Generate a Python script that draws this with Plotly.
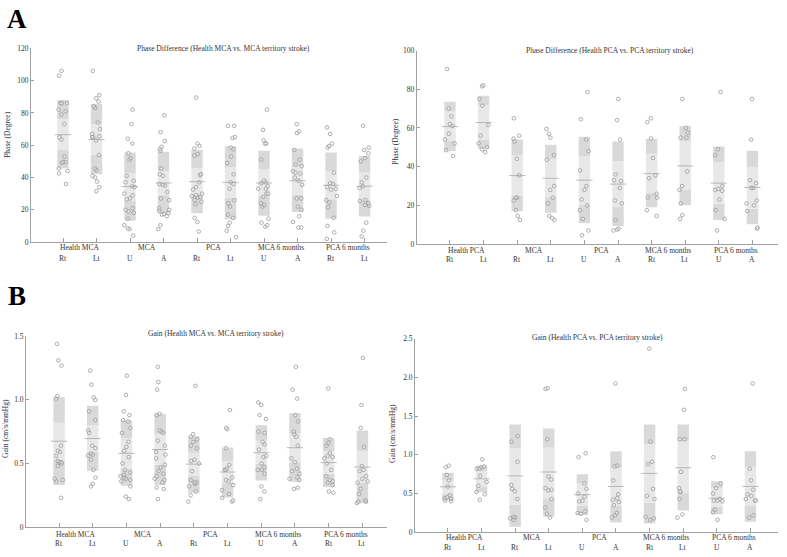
import plotly.graph_objects as go

FONT = "Liberation Serif"
DARK = "#d9d9d9"
LIGHT = "#e8e8e8"
MEANC = "#a8a8a8"
AXC = "#a0a0a0"
PTC = "#999999"

# ---------------- tick / group labels ----------------
groups_mca = ["Health MCA", "MCA", "PCA", "MCA 6 months", "PCA 6 months"]
groups_pca = ["Health PCA", "MCA", "PCA", "MCA 6 months", "PCA 6 months"]
sub_mca = ["Rt", "Lt", "U", "A", "Rt", "Lt", "U", "A", "Rt", "Lt"]
sub_pca = ["Rt", "Lt", "Rt", "Lt", "U", "A", "Rt", "Lt", "U", "A"]

# ---------------- Panel A-left : Phase, Health MCA vs MCA stroke ----------------
a1_points = [
    [103, 106, 86, 86, 86, 82, 81, 79, 73, 65, 63.5, 53, 49.5, 49.5, 49, 45.5, 44, 42.5, 36],
    [106, 91, 89, 87, 84, 83, 74, 70, 67, 65.5, 65, 65, 63, 54, 45.5, 44.5, 41, 40, 37.5, 34, 31.5],
    [82, 73, 64, 61, 55, 52, 51, 41, 38, 37, 34.5, 34, 30, 29, 27, 26.5, 21, 20, 19, 18, 14.5, 10.5, 8.5, 8, 4],
    [78.5, 68, 62.5, 59, 57.5, 56.5, 45.5, 42, 41, 36, 35.5, 35, 31, 27, 26, 21, 20, 19.5, 18, 17.5, 17, 16, 10.5, 8],
    [89.5, 61, 59.5, 58, 54.5, 53.5, 42, 41.5, 37, 34, 32.5, 30, 29, 28.5, 28, 27.5, 26, 25, 23.5, 15, 12.5, 6.5],
    [72, 72, 65, 64.5, 58.5, 57.5, 53, 49, 42, 37, 36, 33, 26, 24, 22, 17, 15, 12, 10, 7, 3],
    [82, 69.5, 63, 61, 61, 51, 38, 37, 36.5, 34.5, 33, 33, 30, 30, 28, 24, 23, 22, 14.5, 12, 10.5, 9.5],
    [73, 68.5, 67.5, 57, 51, 48, 47, 44, 43, 42.5, 40, 38, 35.5, 27, 27, 22, 20, 16, 12.5, 9, 9],
    [71, 67, 61, 59.5, 58.5, 43, 36.5, 36, 34, 33, 32.5, 28.5, 26, 24.5, 21.5, 15, 10, 6, 2],
    [72, 58.5, 57, 55, 52, 50, 40, 37, 34.5, 33.5, 26, 25.5, 24, 23, 22.5, 12, 7, 3.5],
]
a1_lo = [45.5, 42, 13.2, 17.7, 17.9, 14.2, 16.3, 18.7, 14.5, 15.9]
a1_hi = [88, 85.5, 55.5, 56, 57.2, 59.4, 56.5, 58, 55.5, 53.3]
a1_ci_lo = [57, 54, 25.8, 29, 29.5, 27.5, 28.5, 29.5, 26.5, 26.4]
a1_ci_hi = [76, 73, 42.7, 44, 45.8, 46.5, 45, 46.5, 44, 43]
a1_mean = [66.5, 63.5, 34.4, 36.6, 37.4, 37, 36.6, 38, 35.2, 34.6]

# ---------------- Panel A-right : Phase, Health PCA vs PCA stroke ----------------
a2_points = [
    [90.5, 70, 66, 62, 61, 57, 54, 52, 48.5, 45.5],
    [82, 81.5, 75, 71.5, 61.5, 56, 52, 50, 49, 47.5],
    [65, 56, 54.5, 53, 44, 35.5, 24, 24, 22.5, 17.5, 14.5, 12.5],
    [59.5, 57, 55, 46, 43.5, 30, 28, 24, 21, 14.5, 13.5, 12.5],
    [78.5, 64.5, 54, 48, 38, 30, 28, 23, 20, 17.5, 13, 7, 4.5],
    [75, 64, 54, 36, 33, 32.5, 29, 22.5, 21, 12.5, 8, 7.5, 7],
    [65, 63, 54.5, 44.5, 35.5, 34, 26, 24, 24, 17.5, 14.5],
    [75, 60, 57.5, 55, 55, 37.5, 30, 28, 21, 15, 13],
    [78.5, 49, 46, 30, 28.5, 28, 27.5, 23, 17.5, 13, 7],
    [75, 54, 33, 31.5, 29, 29, 22.5, 21, 20, 17, 8.5, 8],
]
a2_lo = [47.9, 49.2, 16.9, 16.2, 10.7, 9.3, 19, 20, 12.4, 10.2]
a2_hi = [73.6, 76.6, 54, 51.3, 55.5, 53, 54.3, 61, 50.4, 48.2]
a2_ci_lo = [53.3, 54.1, 24.9, 24.2, 20.5, 19.1, 26.6, 27.9, 20.8, 18.3]
a2_ci_hi = [68.5, 71.6, 45.7, 43.7, 45.3, 42.8, 46.7, 53, 42.3, 39.8]
a2_mean = [60.7, 62.8, 35.4, 34, 33, 31, 36.4, 40.4, 31.5, 29.3]

# ---------------- Panel B-left : Gain, Health MCA vs MCA stroke ----------------
b1_points = [
    [1.44, 1.31, 1.27, 1.03, 1.01, 0.64, 0.60, 0.59, 0.56, 0.52, 0.51, 0.51, 0.50, 0.48, 0.38, 0.37, 0.36, 0.23],
    [1.23, 1.12, 1.02, 1.00, 0.91, 0.84, 0.76, 0.74, 0.64, 0.62, 0.58, 0.57, 0.56, 0.53, 0.45, 0.39, 0.34, 0.32],
    [1.19, 1.04, 0.91, 0.88, 0.84, 0.83, 0.78, 0.74, 0.67, 0.63, 0.60, 0.55, 0.50, 0.45, 0.43, 0.41, 0.40, 0.39, 0.38, 0.37, 0.36, 0.32, 0.24, 0.22],
    [1.26, 1.14, 1.08, 0.89, 0.88, 0.76, 0.75, 0.74, 0.68, 0.64, 0.59, 0.57, 0.54, 0.49, 0.47, 0.44, 0.42, 0.40, 0.38, 0.37, 0.35, 0.31, 0.30, 0.22],
    [1.11, 0.73, 0.71, 0.69, 0.67, 0.64, 0.62, 0.53, 0.52, 0.50, 0.44, 0.37, 0.35, 0.35, 0.34, 0.32, 0.28, 0.25, 0.20],
    [0.92, 0.78, 0.77, 0.62, 0.49, 0.46, 0.45, 0.45, 0.39, 0.37, 0.36, 0.33, 0.29, 0.26, 0.23, 0.21, 0.20],
    [0.98, 0.96, 0.88, 0.85, 0.75, 0.74, 0.67, 0.65, 0.61, 0.56, 0.55, 0.50, 0.47, 0.45, 0.45, 0.42, 0.32, 0.28, 0.22],
    [1.26, 1.08, 1.01, 0.88, 0.83, 0.75, 0.73, 0.71, 0.64, 0.54, 0.51, 0.46, 0.44, 0.42, 0.39, 0.38, 0.37, 0.31, 0.30],
    [1.09, 0.69, 0.66, 0.64, 0.58, 0.56, 0.55, 0.54, 0.50, 0.45, 0.40, 0.37, 0.36, 0.35, 0.33, 0.28, 0.27],
    [1.33, 0.96, 0.78, 0.63, 0.48, 0.45, 0.44, 0.40, 0.38, 0.36, 0.35, 0.30, 0.26, 0.21, 0.20, 0.20, 0.19],
]
b1_lo = [0.33, 0.443, 0.325, 0.33, 0.27, 0.232, 0.366, 0.356, 0.314, 0.188]
b1_hi = [1.023, 0.954, 0.84, 0.89, 0.714, 0.625, 0.80, 0.894, 0.70, 0.76]
b1_ci_lo = [0.53, 0.593, 0.46, 0.49, 0.405, 0.35, 0.50, 0.51, 0.42, 0.35]
b1_ci_hi = [0.82, 0.80, 0.70, 0.73, 0.585, 0.515, 0.678, 0.735, 0.595, 0.595]
b1_mean = [0.675, 0.696, 0.58, 0.61, 0.495, 0.433, 0.585, 0.624, 0.507, 0.472]

# ---------------- Panel B-right : Gain, Health PCA vs PCA stroke ----------------
b2_points = [
    [0.86, 0.84, 0.74, 0.67, 0.59, 0.48, 0.45, 0.44, 0.43, 0.41, 0.40],
    [0.94, 0.85, 0.84, 0.82, 0.82, 0.73, 0.65, 0.60, 0.52, 0.49, 0.42],
    [1.24, 1.17, 0.91, 0.61, 0.56, 0.53, 0.43, 0.20, 0.19, 0.18, 0.16],
    [1.86, 1.85, 1.20, 0.72, 0.68, 0.57, 0.55, 0.54, 0.43, 0.32, 0.24, 0.19],
    [1.02, 0.97, 0.63, 0.56, 0.50, 0.46, 0.41, 0.40, 0.27, 0.25, 0.24, 0.16],
    [1.92, 0.86, 0.85, 0.67, 0.49, 0.44, 0.42, 0.39, 0.35, 0.25, 0.22, 0.19],
    [2.37, 1.17, 0.91, 0.88, 0.56, 0.47, 0.43, 0.20, 0.18, 0.16],
    [1.85, 1.58, 1.20, 1.20, 0.78, 0.57, 0.53, 0.52, 0.43, 0.23, 0.19],
    [0.97, 0.63, 0.57, 0.50, 0.43, 0.41, 0.41, 0.40, 0.29, 0.26, 0.16],
    [1.92, 0.82, 0.67, 0.55, 0.49, 0.47, 0.43, 0.41, 0.41, 0.22, 0.19],
]
b2_lo = [0.41, 0.516, 0.072, 0.20, 0.22, 0.127, 0.114, 0.283, 0.233, 0.135]
b2_hi = [0.77, 0.863, 1.39, 1.34, 0.75, 1.045, 1.39, 1.39, 0.66, 1.045]
b2_ci_lo = [0.50, 0.59, 0.355, 0.44, 0.347, 0.338, 0.38, 0.507, 0.326, 0.338]
b2_ci_hi = [0.67, 0.79, 1.087, 1.095, 0.635, 0.833, 1.138, 1.17, 0.567, 0.846]
b2_mean = [0.588, 0.69, 0.728, 0.778, 0.485, 0.592, 0.76, 0.833, 0.44, 0.592]

W, H = 787, 557


def px_x(p):
    return p / W


def px_y(p):
    return (H - p) / H


panels = [
    dict(ax="", pts=a1_points, lo=a1_lo, hi=a1_hi, cl=a1_ci_lo, ch=a1_ci_hi, mean=a1_mean,
         groups=groups_mca, subs=sub_mca, xdom=(31, 387), xr=(-0.955, 9.67), ydom=(242, 45), yr=(0, 120),
         yt=[0, 20, 40, 60, 80, 100, 120], ytt=["0", "20", "40", "60", "80", "100", "120"],
         title="Phase Difference (Health MCA vs. MCA territory stroke)", tpos=(223, 45),
         ytitle="Phase (Degree)", ytpos=(8, 133), gy=248, sy=259),
    dict(ax="2", pts=a2_points, lo=a2_lo, hi=a2_hi, cl=a2_ci_lo, ch=a2_ci_hi, mean=a2_mean,
         groups=groups_pca, subs=sub_pca, xdom=(416.7, 778), xr=(-0.99, 9.76), ydom=(244, 47.3), yr=(0, 100),
         yt=[0, 20, 40, 60, 80, 100], ytt=["0", "20", "40", "60", "80", "100"],
         title="Phase Difference (Health PCA vs. PCA territory stroke)", tpos=(610, 47),
         ytitle="Phase (Degree)", ytpos=(396, 140), gy=251, sy=260),
    dict(ax="3", pts=b1_points, lo=b1_lo, hi=b1_hi, cl=b1_ci_lo, ch=b1_ci_hi, mean=b1_mean,
         groups=groups_mca, subs=sub_mca, xdom=(26, 387), xr=(-0.98, 9.73), ydom=(531.7, 337.7), yr=(0, 1.5),
         yt=[0, 0.5, 1.0, 1.5], ytt=["0", "0.5", "1.0", "1.5"],
         title="Gain (Health MCA vs. MCA territory stroke)", tpos=(216, 335),
         ytitle="Gain (cm/s/mmHg)", ytpos=(5, 432), gy=539, sy=548),
    dict(ax="4", pts=b2_points, lo=b2_lo, hi=b2_hi, cl=b2_ci_lo, ch=b2_ci_hi, mean=b2_mean,
         groups=groups_pca, subs=sub_pca, xdom=(415, 778), xr=(-0.98, 9.82), ydom=(537, 340), yr=(0, 2.5),
         yt=[0, 0.5, 1.0, 1.5, 2.0, 2.5], ytt=["0", "0.5", "1.0", "1.5", "2.0", "2.5"],
         title="Gain (Health PCA vs. PCA territory stroke)", tpos=(597, 339),
         ytitle="Gain (cm/s/mmHg)", ytpos=(393, 437), gy=542, sy=552),
]

fig = go.Figure()
annotations = []
layout_axes = {}

for p in panels:
    xa = "x" + p["ax"]
    ya = "y" + p["ax"]
    pos = list(range(10))
    bands = [
        (p["lo"], [c - l for c, l in zip(p["cl"], p["lo"])], DARK),
        (p["cl"], [h - l for h, l in zip(p["ch"], p["cl"])], LIGHT),
        (p["ch"], [h - c for h, c in zip(p["hi"], p["ch"])], DARK),
    ]
    for base, hgt, col in bands:
        fig.add_trace(go.Bar(x=pos, y=hgt, base=base, width=0.34, marker=dict(color=col, line=dict(width=0)),
                             xaxis=xa, yaxis=ya, showlegend=False, hoverinfo="skip"))
    fig.add_trace(go.Scatter(x=pos, y=p["mean"], mode="markers",
                             marker=dict(symbol="line-ew", size=11.5, line=dict(width=0.8, color=MEANC)),
                             xaxis=xa, yaxis=ya, showlegend=False, hoverinfo="skip"))
    xs, ys = [], []
    for i, vals in enumerate(p["pts"]):
        xs += [i] * len(vals)
        ys += vals
    fig.add_trace(go.Box(x=xs, y=ys, boxpoints="all", jitter=0.75, pointpos=0,
                         fillcolor="rgba(0,0,0,0)", line=dict(width=0, color="rgba(0,0,0,0)"),
                         marker=dict(symbol="circle", size=3.6, color="rgba(255,255,255,0.3)",
                                     line=dict(width=0.8, color=PTC)),
                         xaxis=xa, yaxis=ya, showlegend=False, hoverinfo="y"))

    xkey = "xaxis" + p["ax"]
    ykey = "yaxis" + p["ax"]
    layout_axes[xkey] = dict(domain=[px_x(p["xdom"][0]), px_x(p["xdom"][1])], range=list(p["xr"]),
                             anchor=ya, showline=True, linecolor=AXC, linewidth=1, ticks="inside",
                             tickcolor=AXC, ticklen=4, tickvals=pos, showticklabels=False,
                             showgrid=False, zeroline=False, fixedrange=True)
    layout_axes[ykey] = dict(domain=[px_y(p["ydom"][0]), px_y(p["ydom"][1])], range=list(p["yr"]),
                             anchor=xa, showline=True, linecolor=AXC, linewidth=1, ticks="inside",
                             tickcolor=AXC, ticklen=3, tickvals=p["yt"], ticktext=p["ytt"],
                             tickfont=dict(family=FONT, size=7.5, color="#333"),
                             showgrid=False, zeroline=False, fixedrange=True)
    for gi, g in enumerate(p["groups"]):
        annotations.append(dict(x=2 * gi + 0.5, y=px_y(p["gy"]), xref=xa, yref="paper", text=g,
                                showarrow=False, font=dict(family=FONT, size=7.5, color="#333"),
                                xanchor="center", yanchor="middle"))
    for si, s in enumerate(p["subs"]):
        annotations.append(dict(x=si, y=px_y(p["sy"]), xref=xa, yref="paper", text=s,
                                showarrow=False, font=dict(family=FONT, size=7.5, color="#333"),
                                xanchor="center", yanchor="middle"))
    annotations.append(dict(x=px_x(p["tpos"][0]), y=px_y(p["tpos"][1]), xref="paper", yref="paper",
                            text=p["title"], showarrow=False,
                            font=dict(family=FONT, size=7.5, color="#333"),
                            xanchor="center", yanchor="middle"))
    annotations.append(dict(x=px_x(p["ytpos"][0]), y=px_y(p["ytpos"][1]), xref="paper", yref="paper",
                            text=p["ytitle"], textangle=-90, showarrow=False,
                            font=dict(family=FONT, size=7.5, color="#333"),
                            xanchor="center", yanchor="middle"))

annotations.append(dict(x=px_x(17), y=px_y(15), xref="paper", yref="paper", text="<b>A</b>",
                        showarrow=False, font=dict(family=FONT, size=27, color="#000"),
                        xanchor="center", yanchor="middle"))
annotations.append(dict(x=px_x(17), y=px_y(297), xref="paper", yref="paper", text="<b>B</b>",
                        showarrow=False, font=dict(family=FONT, size=27, color="#000"),
                        xanchor="center", yanchor="middle"))

fig.update_layout(width=W, height=H, margin=dict(l=0, r=0, t=0, b=0),
                  paper_bgcolor="white", plot_bgcolor="white", barmode="overlay",
                  boxmode="overlay", boxgap=0.3, showlegend=False,
                  font=dict(family=FONT, size=7.5, color="#333"),
                  annotations=annotations, **layout_axes)

fig.write_html("out.html")
